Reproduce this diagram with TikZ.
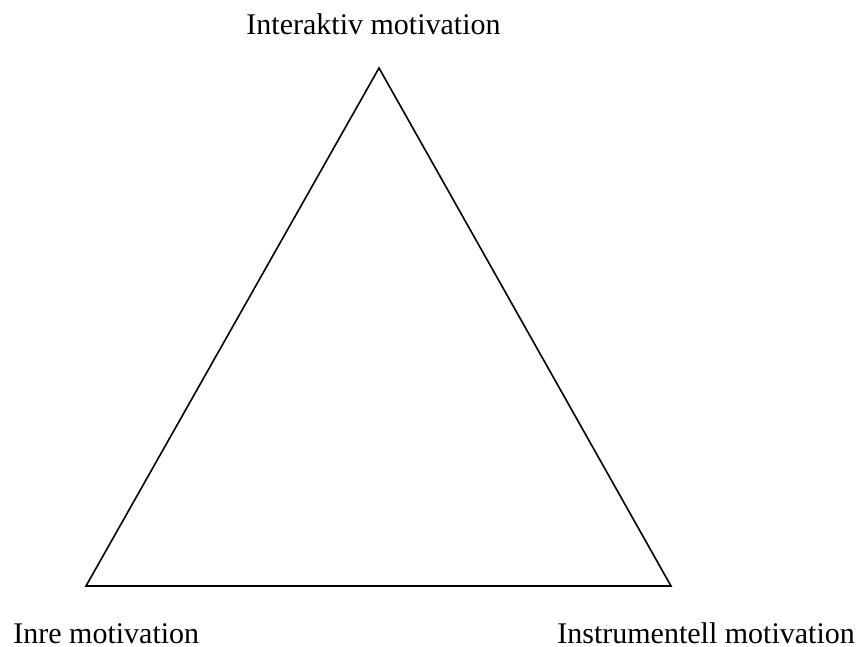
\documentclass[tikz,border=0pt]{standalone}
\usepackage{fontspec}
\setmainfont{Liberation Serif}
\begin{document}
\begin{tikzpicture}[x=0.5pt,y=0.5pt,
        motiv/.style={inner sep=0pt,font=\fontsize{15}{18}\selectfont}]
        \useasboundingbox (0,0) rectangle (857,-647);
        \coordinate (top) at (379,-68);
        \coordinate (left) at (86,-586);
        \coordinate (right) at (671,-586);
        \draw [line width=0.8pt] (top) -- (right) -- (left) -- cycle;
        \node [motiv, anchor=base] (interaktiv) at (373.5,-35) {Interaktiv motivation};
        \node [motiv, anchor=base west] (inre) at (13,-643) {Inre motivation};
        \node [motiv, anchor=base west] (instrumentell) at (557,-643) {Instrumentell motivation};
    \end{tikzpicture}
\end{document}
